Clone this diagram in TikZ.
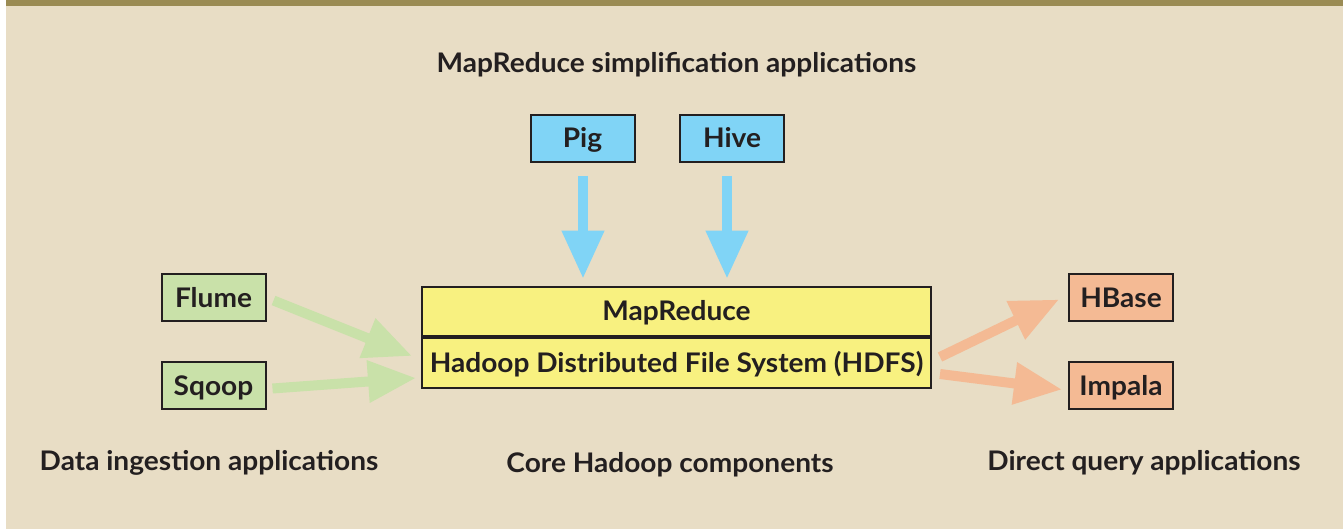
\documentclass[tikz,border=0pt]{standalone}
\usepackage{fontspec}
\setmainfont{Lato}[FakeStretch=1.04]
\usetikzlibrary{arrows.meta,positioning}
\definecolor{pagetan}{HTML}{E8DDC5}
\definecolor{barolive}{HTML}{9A8B53}
\definecolor{inkdark}{HTML}{231F20}
\definecolor{ingestgreen}{HTML}{C9E1A9}
\definecolor{simpleblue}{HTML}{80D4F6}
\definecolor{coreyellow}{HTML}{F8F180}
\definecolor{queryorange}{HTML}{F4BA94}
\begin{document}
\begin{tikzpicture}[x=0.5pt,y=-0.5pt,
    txt/.style={text=inkdark,font=\bfseries\fontsize{13.5}{16}\selectfont},
    appbox/.style={txt,draw=inkdark,line width=1pt,minimum width=52pt,minimum height=23.5pt,
      inner sep=0pt,text height=9.5pt,text depth=0pt},
    corebox/.style={appbox,fill=coreyellow,minimum width=254.5pt,minimum height=24.75pt},
    fatarrow/.style={line width=5pt,-{Triangle[length=24pt,width=20pt]}},
    caption/.style={txt,anchor=base}]
  % page
  \fill[white] (0,0) rectangle (1343,529);
  \fill[pagetan] (6,0) rectangle (1343,529);
  \fill[barolive] (6,0) rectangle (1343,6);

  % core components
  \node[corebox] (mapred) at (676.5,311.5) {MapReduce};
  \node[corebox,below=0pt of mapred] (hdfs) {Hadoop Distributed File System (HDFS)};

  % simplification
  \node[appbox,fill=simpleblue] (pig) at (582.5,138.5) {Pig};
  \node[appbox,fill=simpleblue] (hive) at (732,138.5) {Hive};
  \draw[fatarrow,simpleblue,shorten <=6.5pt,shorten >=3.5pt] ([shift={(0.5,0)}]pig.south) -- ([shift={(0.5,0)}]pig.south |- mapred.north);
  \draw[fatarrow,simpleblue,shorten <=6.5pt,shorten >=3.5pt] ([shift={(-5,0)}]hive.south) -- ([shift={(-5,0)}]hive.south |- mapred.north);

  % ingestion
  \node[appbox,fill=ingestgreen] (flume) at (213.5,297.5) {Flume};
  \node[appbox,fill=ingestgreen] (sqoop) at (213.5,385.5) {Sqoop};
  \draw[fatarrow,ingestgreen] ([shift={(7,3)}]flume.east) -- ([shift={(-9,-7)}]hdfs.west);
  \draw[fatarrow,ingestgreen] ([shift={(6,3)}]sqoop.east) -- ([shift={(-5,15)}]hdfs.west);

  % direct query
  \node[appbox,fill=queryorange] (hbase) at (1121,297.5) {HBase};
  \node[appbox,fill=queryorange] (impala) at (1121,385.5) {Impala};
  \draw[fatarrow,queryorange] ([shift={(8,-6)}]hdfs.east) -- ([shift={(-9,2)}]hbase.west);
  \draw[fatarrow,queryorange] ([shift={(8,11)}]hdfs.east) -- ([shift={(-6,4)}]impala.west);

  % captions
  \node[caption] (simptitle) at (676.5,73) {MapReduce simplification applications};
  \node[caption] (ingesttitle) at (209,470) {Data ingestion applications};
  \node[caption] (coretitle) at (670,472) {Core Hadoop components};
  \node[caption] (querytitle) at (1144,470) {Direct query applications};
\end{tikzpicture}
\end{document}
